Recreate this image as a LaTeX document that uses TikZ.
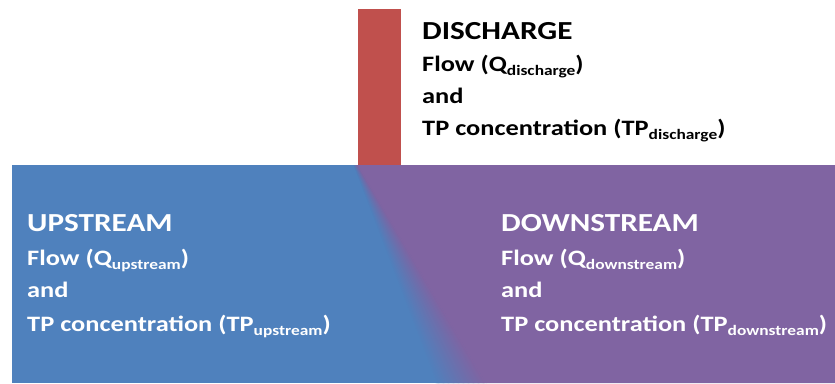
\documentclass[tikz,border=0pt]{standalone}
\usepackage{fontspec}
\setmainfont{Carlito}[FakeStretch=1.2]
\definecolor{cblue}{HTML}{4F81BD}
\definecolor{cpurp}{HTML}{8064A2}
\definecolor{cred}{HTML}{C0504D}
\newcommand{\sbs}[1]{\raisebox{-4pt}{\fontsize{14.5}{14.5}\selectfont #1}}
\begin{document}
\begin{tikzpicture}[x=1pt,y=-1pt,
  head/.style={anchor=base west, inner sep=0pt, font=\bfseries\fontsize{26}{26}\selectfont},
  body/.style={anchor=base west, inner sep=0pt, font=\bfseries\fontsize{22}{22}\selectfont}]
\useasboundingbox (0,0) rectangle (835,383);
\fill[cblue] (12,165) rectangle (835,383);
\fill[cpurp] (358,165) -- (835,165) -- (835,383) -- (486,383) -- cycle;
\foreach \i in {0,...,39} {
  \pgfmathsetmacro{\ta}{\i/40}
  \pgfmathsetmacro{\tb}{(\i+1)/40}
  \pgfmathsetmacro{\mix}{100-100*(\i+0.5)/40}
  \pgfmathsetmacro{\xa}{354+4*\ta-0.3}
  \pgfmathsetmacro{\xb}{354+4*\tb+0.3}
  \pgfmathsetmacro{\xc}{436+50*\tb+0.3}
  \pgfmathsetmacro{\xd}{436+50*\ta-0.3}
  \fill[cblue!\mix!cpurp] (\xa,165) -- (\xb,165) -- (\xc,383) -- (\xd,383) -- cycle;
}
\fill[cred] (358,9) rectangle (401,165);
\node[head] (dh) at (422,39) {DISCHARGE};
\node[body] (dq) at (422,71) {Flow (Q\sbs{discharge})};
\node[body] (da) at (422,103) {and};
\node[body] (dt) at (422,135) {TP concentration (TP\sbs{discharge})};
\node[head, text=white] (uh) at (27,231) {UPSTREAM};
\node[body, text=white] (uq) at (27,265) {Flow (Q\sbs{upstream})};
\node[body, text=white] (ua) at (27,297) {and};
\node[body, text=white] (ut) at (27,331) {TP concentration (TP\sbs{upstream})};
\node[head, text=white] (wh) at (501,231) {DOWNSTREAM};
\node[body, text=white] (wq) at (501,265) {Flow (Q\sbs{downstream})};
\node[body, text=white] (wa) at (501,297) {and};
\node[body, text=white] (wt) at (501,331) {TP concentration (TP\sbs{downstream})};
\end{tikzpicture}
\end{document}
